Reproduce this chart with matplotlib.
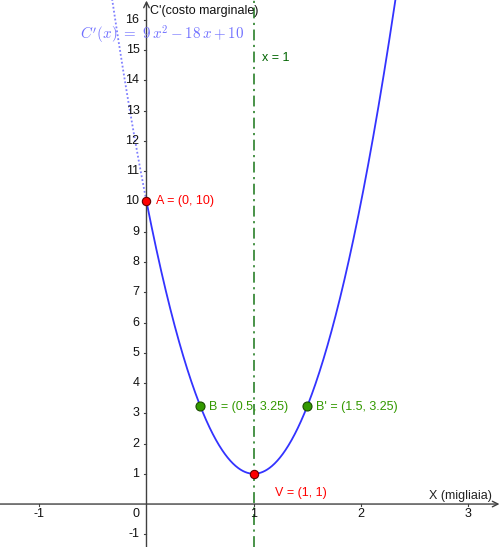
import numpy as np
import matplotlib
matplotlib.use("Agg")
import matplotlib.pyplot as plt

# Data
a, b, c = 9, -18, 10          # C'(x) = 9x^2 - 18x + 10
x_ticks = [-1, 1, 2, 3]
y_ticks = [-1, 1, 2, 3, 4, 5, 6, 7, 8, 9, 10, 11, 12, 13, 14, 15, 16]
pts_red = {"A = (0, 10)": (0, 10), "V = (1, 1)": (1, 1)}
pts_green = {"B = (0.5, 3.25)": (0.5, 3.25), "B' = (1.5, 3.25)": (1.5, 3.25)}
axis_x_vert = 1

plt.rcParams['font.family'] = ['Liberation Sans', 'DejaVu Sans']
plt.rcParams['mathtext.fontset'] = 'cm'

fig = plt.figure(figsize=(5.0, 5.47), dpi=100)
ax = fig.add_axes([0, 0, 1, 1])
xmin, xmax = -1.365, 3.294
ymin, ymax = -1.42, 16.66
ax.set_xlim(xmin, xmax)
ax.set_ylim(ymin, ymax)
for s in ax.spines.values():
    s.set_visible(False)
ax.set_xticks([])
ax.set_yticks([])

axc = '#404040'
# axes
ax.annotate('', xy=(xmax - 0.005, 0), xytext=(xmin, 0),
            arrowprops=dict(arrowstyle='->', color=axc, lw=1.0, shrinkA=0, shrinkB=0))
ax.annotate('', xy=(0, ymax - 0.02), xytext=(0, ymin),
            arrowprops=dict(arrowstyle='->', color=axc, lw=1.0, shrinkA=0, shrinkB=0))

fs = 9
tx = 0.022
ty = 0.08
for xv in x_ticks:
    ax.plot([xv, xv], [0, -ty], color=axc, lw=0.8)
    ax.text(xv, -0.33, str(xv), ha='center', va='center', fontsize=fs, color='#111111')
for yv in y_ticks:
    ax.plot([-tx, 0], [yv, yv], color=axc, lw=0.8)
    ax.text(-0.065, yv, str(yv), ha='right', va='center', fontsize=fs, color='#111111')
ax.text(-0.065, -0.33, '0', ha='right', va='center', fontsize=fs, color='#111111')

# vertical line x = 1
ax.axvline(axis_x_vert, color='#3a8a3a', lw=1.3, ls=(0, (6, 2.5, 1.2, 2.5)))
ax.text(1.08, 14.75, 'x = 1', fontsize=fs, color='#006400', ha='left', va='center')

# parabola
xs = np.linspace(0, 2.5, 600)
ax.plot(xs, a * xs**2 + b * xs + c, color='#3333ff', lw=1.3, solid_capstyle='round')
xd = np.linspace(-0.5, 0, 200)
ax.plot(xd, a * xd**2 + b * xd + c, color='#8080ff', lw=1.3, ls=(0, (1, 1.2)))

# points
for lbl, (px, py) in pts_red.items():
    ax.plot(px, py, 'o', ms=6, mfc='#ff0000', mec='#660000', mew=0.8, zorder=5)
for lbl, (px, py) in pts_green.items():
    ax.plot(px, py, 'o', ms=6.5, mfc='#339900', mec='#1a4d00', mew=0.8, zorder=5)

ax.text(0.09, 10.0, 'A = (0, 10)', color='#ff0000', fontsize=fs, ha='left', va='center')
ax.text(1.2, 0.37, 'V = (1, 1)', color='#ff0000', fontsize=fs, ha='left', va='center')
ax.text(0.58, 3.2, 'B = (0.5, 3.25)', color='#339900', fontsize=fs, ha='left', va='center')
ax.text(1.58, 3.2, "B' = (1.5, 3.25)", color='#339900', fontsize=fs, ha='left', va='center')

ax.text(0.03, 16.28, "C'(costo marginale)", color='#111111', fontsize=fs, ha='left', va='center')
ax.text(3.22, 0.25, 'X (migliaia)', color='#222222', fontsize=fs, ha='right', va='center')

ax.text(-0.62, 15.52, r"$C'(x)\ =\ 9\,x^2-18\,x+10$", color='#7070ff',
        fontsize=10.8, ha='left', va='center')

fig.savefig('out.png', dpi=100, facecolor='white')
